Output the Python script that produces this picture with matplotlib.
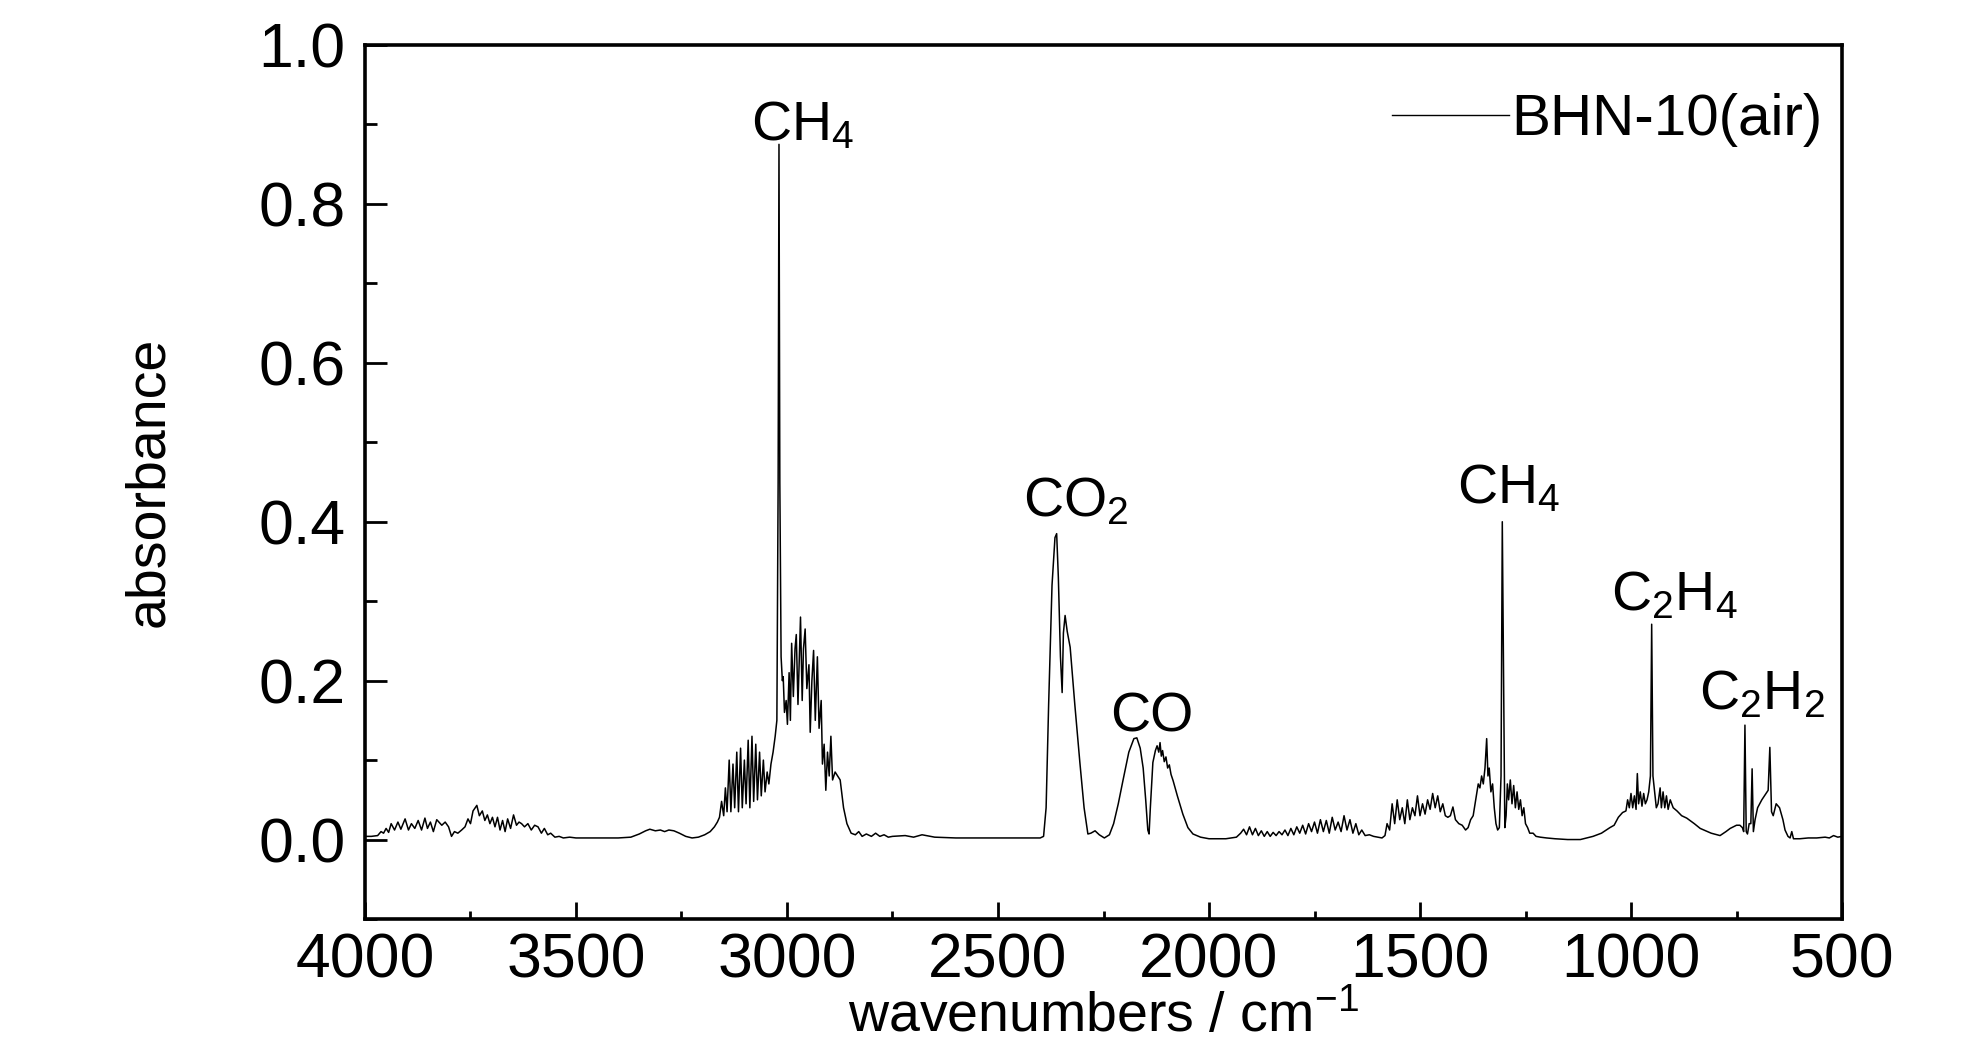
import matplotlib
matplotlib.use("Agg")
import matplotlib.pyplot as plt
from matplotlib.ticker import MultipleLocator, FormatStrFormatter

plt.rcParams['font.family'] = ['Liberation Sans', 'DejaVu Sans']
plt.rcParams['mathtext.fontset'] = 'custom'
plt.rcParams['mathtext.rm'] = 'Liberation Sans'
plt.rcParams['mathtext.it'] = 'Liberation Sans'
plt.rcParams['mathtext.bf'] = 'Liberation Sans'

# ---- data (wavenumber cm-1, absorbance) ----
wn1 = [4000,3985,3970,3962,3956,3950,3944,3938,3930,3922,3915,3905,3897,3890,3882,3874,3866,3858,3852,3845,
       3838,3830,3818,3810,3802,3795,3788,3780,3771,3763,3756,3750,3744,3735,3729,3722,3716,3710,3704,3698,
       3692,3686,3680,3674,3668,3662,3655,3648,3641,3635,3629,3622,3614,3606,3598,3590,3582,3575,3567,3560,
       3550,3540,3530,3515,3500]
ab1 = [0.004,0.004,0.005,0.010,0.008,0.014,0.009,0.020,0.012,0.022,0.013,0.026,0.012,0.020,0.014,0.024,0.012,0.027,0.014,0.022,
       0.010,0.025,0.018,0.022,0.016,0.004,0.010,0.008,0.012,0.016,0.026,0.020,0.036,0.043,0.030,0.036,0.024,0.031,0.020,0.028,
       0.016,0.028,0.012,0.024,0.010,0.026,0.014,0.031,0.018,0.022,0.020,0.016,0.020,0.012,0.018,0.016,0.008,0.014,0.006,0.008,
       0.003,0.004,0.002,0.003,0.002]

wn2 = [3470,3440,3400,3370,3350,3335,3325,3312,3300,3290,3280,3268,3255,3240,3225,3210,3195,3182,3172,3165]
ab2 = [0.002,0.002,0.002,0.003,0.007,0.011,0.013,0.011,0.012,0.010,0.012,0.011,0.008,0.004,0.002,0.003,0.006,0.010,0.016,0.022]

wn3 = [3160,3155,3150,3146,3142,3137,3133,3128,3124,3119,3115,3110,3106,3101,3097,3092,3088,3083,3079,3074,
       3070,3065,3061,3056,3052,3047,3043,3038,3033,3028,3024,3021,3019,3017,3014,3011,3009,3006,3002,2999,
       2995,2992,2989,2985,2981,2978,2974,2968,2964,2961,2957,2953,2948,2945,2941,2937,2933,2928,2924,2919,
       2916,2912,2908,2904,2900,2896,2892,2886,2880,2874,2866,2858,2848,2838,2830,2822,2812,2800,2790,2780,
       2770,2760,2750]
ab3 = [0.028,0.048,0.030,0.065,0.035,0.100,0.035,0.095,0.040,0.110,0.035,0.115,0.040,0.100,0.045,0.125,0.040,0.130,0.048,0.120,
       0.050,0.110,0.055,0.100,0.060,0.085,0.070,0.095,0.110,0.130,0.150,0.450,0.875,0.450,0.230,0.200,0.205,0.160,0.175,0.145,
       0.210,0.150,0.247,0.180,0.240,0.258,0.170,0.280,0.175,0.240,0.265,0.190,0.220,0.135,0.200,0.238,0.150,0.230,0.140,0.175,
       0.095,0.120,0.062,0.110,0.080,0.130,0.075,0.085,0.080,0.075,0.040,0.020,0.008,0.006,0.010,0.004,0.007,0.004,0.008,0.004,
       0.006,0.003,0.004]

wn4 = [2720,2700,2680,2650,2600,2550,2500,2450,2400,2392,2386,2380,2372,2365,2361,2357,2352,2348,2345,2341,
       2336,2329,2318,2306,2296,2287,2280,2270,2260,2248,2236,2226,2215,2204,2190,2178,2171,2163,2156,2150,
       2145,2142,2139,2133,2127,2123,2119,2116,2113,2110,2106,2102,2098,2094,2090,2085,2075,2062,2050,2038,
       2020,2000]
ab4 = [0.005,0.003,0.006,0.003,0.002,0.002,0.002,0.002,0.002,0.004,0.040,0.170,0.320,0.380,0.385,0.330,0.230,0.185,0.260,0.282,
       0.262,0.242,0.170,0.097,0.040,0.007,0.008,0.011,0.006,0.002,0.006,0.020,0.045,0.074,0.110,0.127,0.128,0.115,0.090,0.050,
       0.012,0.007,0.040,0.097,0.112,0.118,0.110,0.122,0.105,0.112,0.098,0.104,0.090,0.094,0.082,0.074,0.055,0.032,0.015,0.007,
       0.003,0.001]

wn5 = [1990,1960,1935,1925,1918,1911,1904,1897,1890,1883,1876,1869,1862,1855,1848,1841,1834,1827,1820,1813,
       1806,1799,1792,1785,1778,1771,1764,1757,1750,1743,1736,1729,1722,1715,1708,1701,1694,1687,1680,1673,
       1666,1659,1652,1645,1638,1630,1620,1610,1600,1590,1583]
ab5 = [0.001,0.001,0.003,0.008,0.013,0.006,0.016,0.006,0.014,0.005,0.011,0.004,0.010,0.004,0.009,0.005,0.010,0.006,0.012,0.005,
       0.014,0.006,0.016,0.008,0.018,0.007,0.020,0.010,0.022,0.008,0.025,0.010,0.024,0.008,0.028,0.012,0.022,0.010,0.030,0.012,
       0.025,0.008,0.020,0.006,0.012,0.005,0.006,0.004,0.003,0.002,0.005]

wn6 = [1578,1572,1566,1560,1554,1548,1542,1536,1530,1524,1518,1512,1506,1500,1494,1488,1482,1476,1470,1464,
       1458,1452,1446,1440,1434,1428,1422,1416,1408,1400,1392,1386,1380,1374,1368,1362,1358,1354,1350,1346,
       1342,1339,1336,1332,1328,1324,1320,1316,1312,1308,1305,1302,1299,1296,1293,1290,1286,1282,1278,1274,
       1270,1266,1262,1258,1254,1250,1245,1240,1232,1225,1215,1200,1180,1150,1120]
ab6 = [0.020,0.012,0.045,0.020,0.050,0.025,0.040,0.020,0.050,0.025,0.040,0.030,0.055,0.030,0.045,0.032,0.050,0.038,0.058,0.040,
       0.055,0.035,0.045,0.030,0.028,0.030,0.041,0.025,0.020,0.018,0.012,0.015,0.025,0.030,0.050,0.070,0.065,0.080,0.070,0.090,
       0.127,0.080,0.090,0.060,0.070,0.040,0.020,0.012,0.015,0.080,0.400,0.200,0.015,0.030,0.070,0.050,0.075,0.045,0.068,0.040,
       0.060,0.038,0.050,0.030,0.040,0.020,0.015,0.008,0.008,0.004,0.003,0.002,0.001,0.000,0.000]

wn7 = [1090,1070,1050,1040,1030,1020,1012,1008,1004,1000,996,992,988,985,982,978,974,970,966,962,
       958,954,951,948,944,940,936,931,928,924,920,916,912,907,900,891,880,868,850,836,
       810,789,775,765,750,742,736,733,730,727,724,720,716,713,710,706,700,690,680,675,
       671,667,663,656,648,640,635,628,623,619,615,600,580,560,540,530,520,510,500]
ab7 = [0.004,0.008,0.015,0.018,0.028,0.034,0.036,0.050,0.040,0.058,0.040,0.055,0.038,0.083,0.045,0.060,0.042,0.058,0.045,0.050,
       0.060,0.080,0.271,0.080,0.060,0.040,0.045,0.065,0.040,0.060,0.040,0.055,0.038,0.050,0.040,0.036,0.030,0.027,0.020,0.014,
       0.008,0.005,0.010,0.014,0.018,0.018,0.015,0.010,0.144,0.010,0.007,0.020,0.020,0.089,0.010,0.025,0.040,0.050,0.058,0.062,
       0.116,0.035,0.030,0.045,0.040,0.025,0.012,0.004,0.002,0.010,0.001,0.001,0.002,0.002,0.003,0.002,0.005,0.003,0.004]

wavenumber = wn1 + wn2 + wn3 + wn4 + wn5 + wn6 + wn7
absorbance = ab1 + ab2 + ab3 + ab4 + ab5 + ab6 + ab7

series_label = "BHN-10(air)"

# peak labels: (text, x position, baseline y)
peak_texts = [r"CH$_4$", r"CO$_2$", "CO", r"CH$_4$", r"C$_2$H$_4$", r"C$_2$H$_2$"]
peak_x = [2962, 2316, 2136, 1291, 898, 689]
peak_y = [0.880, 0.407, 0.136, 0.423, 0.289, 0.164]

xticks = [4000, 3500, 3000, 2500, 2000, 1500, 1000, 500]
yticks = [0.0, 0.2, 0.4, 0.6, 0.8, 1.0]

# ---- figure ----
fig = plt.figure(figsize=(19.84, 10.63), dpi=100)
ax = fig.add_axes([365/1984, 1 - 919/1063, 1477/1984, 874/1063])

ax.plot(wavenumber, absorbance, color='black', lw=1.1, label=series_label)

ax.set_xlim(4000, 500)
ax.set_ylim(-0.1, 1.0)
ax.set_xticks(xticks)
ax.set_yticks(yticks)
ax.xaxis.set_minor_locator(MultipleLocator(250))
ax.yaxis.set_minor_locator(MultipleLocator(0.1))
ax.yaxis.set_major_formatter(FormatStrFormatter('%.1f'))

for sp in ax.spines.values():
    sp.set_linewidth(2.6)

ax.tick_params(axis='both', which='both', direction='in', width=2.0, labelsize=45)
ax.tick_params(axis='y', which='major', length=16, pad=14)
ax.tick_params(axis='y', which='minor', length=8.5)
ax.tick_params(axis='x', which='major', length=12, pad=9)
ax.tick_params(axis='x', which='minor', length=6)
ax.tick_params(top=False, right=False, which='both')

ax.set_xlabel(r"wavenumbers / cm$^{-1}$", fontsize=40, labelpad=0)
ax.set_ylabel("absorbance", fontsize=40, labelpad=60)

for t, x, y in zip(peak_texts, peak_x, peak_y):
    ax.text(x, y, t, fontsize=40, ha='center', va='baseline')

leg = ax.legend(loc='upper right', bbox_to_anchor=(0.9865, 0.945), frameon=False,
                fontsize=42, handlelength=2.0, handletextpad=0.03, borderpad=0,
                borderaxespad=0)
for line in leg.get_lines():
    line.set_linewidth(1.0)

fig.savefig("out.png", dpi=100)
